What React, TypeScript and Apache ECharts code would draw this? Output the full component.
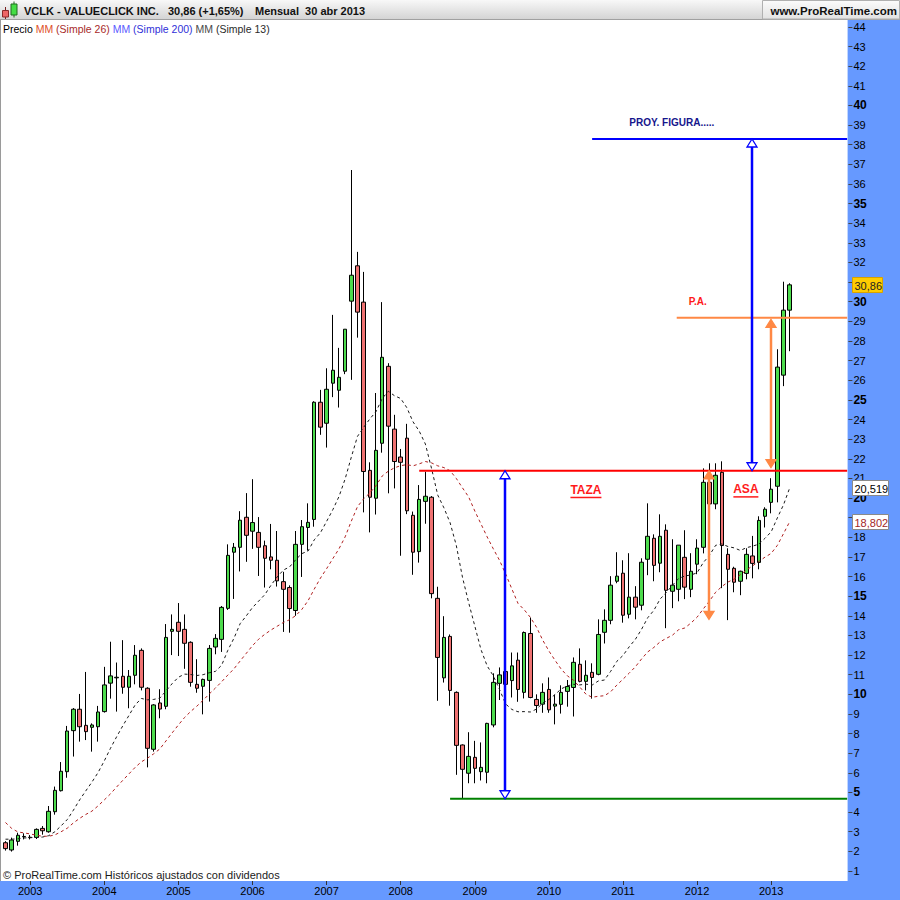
import React, { useEffect, useRef } from 'react';
import * as echarts from 'echarts';

const FONT = "'Liberation Sans', Arial, Helvetica, sans-serif";

// Monthly candles, Sep 2002 .. Apr 2013
const startYear = 2002;
const startMonth = 9;
const openP = [
  2.44, 2.07, 2.51, 2.74, 2.72, 2.71, 3.17, 3.0, 4.02, 5.09,
  6.06, 8.15, 9.24, 8.42, 8.32, 8.35, 9.12, 10.57, 10.84, 10.92,
  10.36, 10.97, 12.24, 10.31, 7.2, 9.56, 9.39, 13.21, 13.67, 13.31,
  12.65, 10.51, 10.41, 10.71, 12.41, 12.8, 14.38, 17.24, 17.49, 19.02,
  18.31, 18.25, 17.57, 17.0, 16.83, 15.74, 15.44, 14.27, 17.64, 18.5,
  18.91, 24.88, 23.81, 25.85, 25.49, 26.46, 30.03, 31.83, 29.98, 21.41,
  19.99, 22.79, 26.71, 23.51, 22.09, 23.05, 19.12, 17.27, 19.83, 20.04,
  14.89, 10.84, 12.95, 10.1, 7.42, 5.98, 6.79, 6.06, 6.03, 8.44,
  10.56, 11.16, 10.7, 11.74, 10.1, 13.1, 9.74, 9.5, 10.25, 9.4,
  9.49, 10.15, 10.35, 11.53, 10.66, 11.12, 11.02, 13.16, 13.77, 15.76,
  16.17, 14.08, 14.95, 14.54, 16.88, 17.95, 16.68, 18.36, 15.25, 15.35,
  16.98, 15.35, 16.63, 17.49, 20.8, 19.7, 21.31, 17.13, 16.42, 15.76,
  16.16, 17.05, 16.72, 19.07, 19.78, 20.6, 26.26, 29.57,
];
const highP = [
  2.52, 2.7, 2.95, 2.92, 2.83, 3.17, 3.29, 4.31, 5.3, 6.55,
  8.39, 9.3, 10.02, 11.14, 8.52, 9.41, 11.4, 12.68, 11.62, 12.76,
  11.24, 12.51, 12.34, 10.36, 9.5, 10.26, 13.58, 14.07, 14.65, 14.07,
  12.7, 11.79, 10.8, 12.51, 13.07, 14.5, 17.64, 17.71, 19.33, 20.25,
  20.96, 19.03, 17.83, 18.68, 18.32, 16.24, 15.55, 18.32, 18.88, 19.73,
  24.93, 25.51, 26.61, 29.33, 27.65, 28.6, 36.71, 32.54, 31.52, 21.82,
  25.35, 29.98, 26.87, 24.24, 22.5, 23.78, 19.31, 20.66, 21.34, 20.1,
  15.48, 13.98, 13.05, 10.15, 7.45, 8.07, 7.63, 7.55, 8.55, 11.07,
  11.37, 11.37, 12.13, 12.13, 13.2, 13.91, 10.0, 10.56, 10.86, 9.98,
  10.46, 10.73, 11.88, 12.34, 11.73, 11.58, 13.82, 14.33, 16.02, 17.24,
  16.83, 17.19, 15.51, 16.93, 19.73, 18.15, 19.17, 18.66, 17.9, 17.6,
  18.36, 17.19, 17.9, 21.51, 21.77, 21.77, 21.87, 17.44, 16.5, 16.3,
  17.44, 18.07, 19.07, 19.53, 21.01, 27.58, 31.02, 30.94,
];
const lowP = [
  2.04, 1.99, 2.29, 2.61, 2.61, 2.63, 2.85, 2.95, 3.87, 5.05,
  5.75, 6.83, 7.59, 7.67, 7.08, 7.59, 9.07, 9.78, 9.12, 10.03,
  9.29, 10.51, 10.2, 6.28, 7.08, 8.78, 9.24, 12.0, 11.95, 11.3,
  10.39, 10.08, 8.98, 9.63, 12.04, 12.16, 14.3, 14.86, 16.26, 16.75,
  17.41, 16.03, 15.44, 16.37, 15.49, 13.18, 13.14, 14.0, 15.98, 17.32,
  18.54, 23.22, 22.57, 25.14, 24.61, 26.31, 26.02, 28.17, 19.27, 18.25,
  19.16, 22.31, 20.24, 20.49, 17.06, 19.18, 16.09, 16.71, 18.69, 14.89,
  9.67, 10.6, 9.42, 5.9, 4.7, 5.47, 5.47, 5.61, 5.47, 8.32,
  9.71, 9.74, 9.84, 9.62, 9.79, 9.8, 9.06, 9.06, 9.06, 8.47,
  9.02, 9.37, 8.87, 10.61, 10.2, 9.78, 10.97, 12.59, 13.57, 15.66,
  13.65, 13.87, 13.82, 14.28, 16.07, 15.76, 16.22, 13.37, 14.39, 14.74,
  14.85, 14.95, 16.12, 17.18, 19.5, 19.43, 15.41, 13.78, 15.2, 15.05,
  15.86, 15.91, 16.37, 18.5, 19.22, 19.78, 25.7, 27.48,
];
const closeP = [
  2.14, 2.58, 2.82, 2.76, 2.7, 3.12, 3.05, 4.04, 5.11, 6.08,
  8.13, 9.24, 8.35, 8.1, 8.44, 9.1, 10.48, 10.94, 10.87, 10.36,
  10.92, 11.99, 10.36, 7.25, 9.46, 9.25, 12.9, 13.31, 13.21, 12.6,
  10.61, 10.31, 10.76, 12.34, 12.85, 14.43, 17.08, 17.49, 18.87, 18.1,
  18.75, 17.49, 16.93, 16.83, 15.78, 15.35, 14.37, 17.64, 18.54, 18.76,
  24.88, 23.61, 25.54, 26.51, 26.15, 28.6, 31.35, 29.47, 21.35, 20.04,
  22.43, 27.17, 23.66, 21.86, 21.82, 19.35, 17.24, 19.93, 20.09, 15.13,
  11.88, 12.9, 10.2, 7.4, 6.18, 6.84, 6.23, 6.28, 8.52, 10.61,
  10.99, 10.51, 11.45, 10.25, 13.15, 9.84, 9.43, 10.1, 9.21, 9.5,
  10.1, 10.4, 11.63, 10.66, 10.97, 10.86, 13.05, 13.77, 15.56, 16.02,
  14.03, 14.95, 14.44, 16.73, 18.05, 16.57, 18.05, 15.3, 15.56, 17.6,
  15.46, 16.27, 17.45, 20.8, 19.7, 21.16, 17.58, 16.37, 15.71, 16.27,
  17.13, 16.67, 18.86, 19.43, 20.45, 26.67, 29.57, 30.86,
];
// MM (Simple 13), black dashed
const ma13 = [
  2.62, 2.62, 2.64, 2.68, 2.7, 2.71, 2.73, 2.8, 3.0, 3.3,
  3.62, 4.1, 4.62, 5.08, 5.53, 6.02, 6.61, 7.25, 7.84, 8.4,
  8.93, 9.46, 9.79, 9.72, 9.74, 9.81, 10.18, 10.55, 10.87, 11.03,
  11.01, 10.96, 11.0, 11.1, 11.17, 11.48, 12.24, 12.86, 13.6, 14.0,
  14.42, 14.75, 15.08, 15.56, 15.98, 16.33, 16.49, 16.86, 17.17, 17.3,
  17.87, 18.23, 18.81, 19.4, 20.07, 20.97, 22.08, 23.14, 23.6, 24.03,
  24.4, 25.07, 25.44, 25.21, 25.07, 24.6, 23.88, 23.41, 22.75, 21.5,
  20.15, 19.5, 18.74, 17.59, 15.97, 14.68, 13.48, 12.28, 11.45, 10.94,
  10.25, 9.51, 9.23, 9.11, 9.12, 9.1, 9.25, 9.55, 9.74, 9.99,
  10.28, 10.43, 10.51, 10.48, 10.52, 10.47, 10.68, 10.73, 11.17, 11.68,
  11.98, 12.42, 12.8, 13.31, 13.9, 14.28, 14.85, 15.18, 15.55, 15.9,
  16.03, 16.08, 16.19, 16.71, 17.08, 17.59, 17.66, 17.53, 17.46, 17.33,
  17.47, 17.55, 17.65, 17.95, 18.28, 18.99, 19.66, 20.52,
];
// MM (Simple 26), dark red dashed
const ma26 = [
  3.47, 3.17, 2.99, 2.94, 2.89, 2.82, 2.77, 2.77, 2.84, 3.0,
  3.18, 3.45, 3.68, 3.88, 4.05, 4.32, 4.62, 4.93, 5.28, 5.62,
  5.95, 6.28, 6.56, 6.75, 6.97, 7.22, 7.63, 8.04, 8.44, 8.82,
  9.13, 9.4, 9.7, 10.02, 10.32, 10.64, 10.98, 11.3, 11.7, 12.09,
  12.48, 12.81, 13.06, 13.28, 13.47, 13.66, 13.8, 14.01, 14.33, 14.77,
  15.36, 15.92, 16.4, 16.91, 17.41, 18.02, 18.82, 19.56, 19.96, 20.26,
  20.63, 21.12, 21.37, 21.54, 21.65, 21.7, 21.64, 21.74, 21.86, 21.79,
  21.64, 21.55, 21.39, 21.0, 20.52, 20.06, 19.34, 18.68, 18.02, 17.41,
  16.83, 16.13, 15.37, 14.63, 14.31, 13.92, 13.42, 12.76, 12.21, 11.73,
  11.28, 10.94, 10.72, 10.37, 10.01, 9.85, 9.9, 9.93, 10.13, 10.47,
  10.77, 11.08, 11.4, 11.8, 12.16, 12.39, 12.67, 12.85, 13.01, 13.29,
  13.38, 13.63, 13.93, 14.35, 14.75, 15.2, 15.49, 15.72, 15.87, 16.09,
  16.33, 16.55, 16.77, 16.99, 17.18, 17.59, 18.19, 18.8,
];
const futurePad = 9;
const yearLabels = ['2003', '2004', '2005', '2006', '2007', '2008', '2009', '2010', '2011', '2012', '2013'];
const priceTicks = [
  1, 2, 3, 4, 5, 6, 7, 8, 9, 10, 11, 12, 13, 14, 15, 16, 17, 18, 19, 20, 21, 22,
  23, 24, 25, 26, 27, 28, 29, 30, 31, 32, 33, 34, 35, 36, 37, 38, 39, 40, 41, 42, 43, 44,
];
// labels hidden behind the last-value boxes (31 and 19 are covered in the reference)
const priceLabels = [
  1, 2, 3, 4, 5, 6, 7, 8, 9, 10, 11, 12, 13, 14, 15, 16, 17, 18, 20, 21, 22,
  23, 24, 25, 26, 27, 28, 29, 30, 32, 33, 34, 35, 36, 37, 38, 39, 40, 41, 42, 43, 44,
];

// Drawn levels: start/end in month-index units, price
const levelStart = [67.0, 72.0, 95.0, 108.7];
const levelEnd = [136.3, 136.3, 136.3, 136.3];
const levelPrice = [21.39, 4.68, 38.29, 29.19];

// Double arrows: position in month-index units, low/high price
const arrowAt = [80.9, 120.9, 123.9, 113.9];
const arrowLow = [4.68, 21.39, 21.55, 13.82];
const arrowHigh = [21.39, 38.29, 29.1, 21.39];

// Notes
const noteText = ['PROY. FIGURA.....', 'P.A.', 'TAZA', 'ASA'];
const noteAt = [107.9, 112.1, 94.0, 119.9];
const notePrice = [39.13, 29.99, 20.41, 20.44];

// Last values on the price scale
const lastValues = [30.86, 20.519, 18.802];
const lastLabels = ['30,86', '20,519', '18,802'];

// ---- styles ----
const levelColors = ['#ff0000', '#008000', '#0000ff', '#ff8844'];
const arrowStyles = [
  { stroke: '#0000ff', fill: '#ffffff' },
  { stroke: '#0000ff', fill: '#ffffff' },
  { stroke: '#ff8844', fill: '#ff8844' },
  { stroke: '#ff8844', fill: '#ff8844' },
];
const noteStyles = [
  { color: '#16168c', size: 10, underline: 0 },
  { color: '#ff1a1a', size: 10, underline: 0 },
  { color: '#ff1a1a', size: 12, underline: 31 },
  { color: '#ff1a1a', size: 12, underline: 25 },
];
const badgeStyles = [
  { fill: '#ffcc00', stroke: '#d8a200', text: '#222', width: 30 },
  { fill: '#ffffff', stroke: '#8a8a8a', text: '#000', width: 36 },
  { fill: '#ffffff', stroke: '#8a8a8a', text: '#a31f1f', width: 36 },
];

const N = closeP.length;
const TOTAL = N + futurePad;
const categories = Array.from({ length: TOTAL }, (_, i) => {
  const m = startMonth - 1 + i;
  const y = startYear + Math.floor(m / 12);
  const mm = (m % 12) + 1;
  return `${y}-${mm < 10 ? '0' + mm : mm}`;
});
const isYearStart = (value: string) =>
  value.endsWith('-01') && yearLabels.indexOf(value.slice(0, 4)) >= 0;

const candles = openP.map((o, i) => [o, closeP[i], lowP[i], highP[i]]);

const headerGradient = {
  type: 'linear', x: 0, y: 0, x2: 0, y2: 1,
  colorStops: [
    { offset: 0, color: '#f8f8f8' },
    { offset: 1, color: '#d2d2d2' },
  ],
};
const boxGradient = {
  type: 'linear', x: 0, y: 0, x2: 0, y2: 1,
  colorStops: [
    { offset: 0, color: '#fbfbfb' },
    { offset: 1, color: '#e2e2e2' },
  ],
};

function buildOption(): any {
  return {
    animation: false,
    backgroundColor: '#ffffff',
    grid: {
      left: 2.41, top: 20, width: 845.975, height: 861,
      containLabel: false, outerBoundsMode: 'none',
    },
    xAxis: [
      {
        type: 'category',
        data: categories,
        boundaryGap: true,
        axisLine: { show: false, onZero: false },
        splitLine: { show: false },
        axisTick: {
          show: true, alignWithLabel: true, length: 4,
          interval: (_i: number, v: string) => isYearStart(v),
          lineStyle: { color: '#333', width: 1 },
        },
        axisLabel: {
          interval: (_i: number, v: string) => isYearStart(v),
          formatter: (v: string) => (isYearStart(v) ? v.slice(0, 4) : ''),
          fontFamily: FONT, fontSize: 11, color: '#000', margin: 4,
        },
      },
      {
        type: 'value', show: false, min: -0.5, max: TOTAL - 0.5,
        axisLine: { show: false, onZero: false },
        axisTick: { show: false },
        axisLabel: { show: false },
        splitLine: { show: false },
      },
    ],
    yAxis: {
      type: 'value', position: 'right',
      min: 0.4906, max: 44.352,
      axisLine: { show: false, onZero: false },
      splitLine: { show: false },
      axisTick: { show: true, length: 4, lineStyle: { color: '#444' }, customValues: priceTicks },
      axisLabel: {
        customValues: priceLabels,
        margin: 5,
        formatter: (v: number) => (Math.round(v) % 5 === 0 ? `{b|${Math.round(v)}}` : `{n|${Math.round(v)}}`),
        rich: {
          b: { fontFamily: FONT, fontSize: 12, fontWeight: 'bold', color: '#000' },
          n: { fontFamily: FONT, fontSize: 11, color: '#000' },
        },
      },
    },
    series: [
      {
        type: 'candlestick',
        xAxisIndex: 0,
        data: candles,
        barWidth: 4,
        itemStyle: {
          color: '#4ddb4d', color0: '#ef7272',
          borderColor: '#000', borderColor0: '#000', borderColorDoji: '#000',
          borderWidth: 1,
        },
        z: 2,
      },
      {
        type: 'line', xAxisIndex: 0, data: ma26, symbol: 'none', silent: true,
        lineStyle: { color: '#b02020', width: 1, type: [3, 3] }, z: 3,
      },
      {
        type: 'line', xAxisIndex: 0, data: ma13, symbol: 'none', silent: true,
        lineStyle: { color: '#1a1a1a', width: 1, type: [3, 3] }, z: 3,
      },
      {
        type: 'custom', xAxisIndex: 1, yAxisIndex: 0, z: 5, clip: false, silent: true,
        encode: { x: [0, 1], y: 2 },
        data: levelPrice.map((p, i) => [levelStart[i], levelEnd[i], p, i]),
        renderItem: (_params: any, api: any) => {
          const i = api.value(3);
          const a = api.coord([api.value(0), api.value(2)]);
          const b = api.coord([api.value(1), api.value(2)]);
          return {
            type: 'line',
            shape: { x1: a[0], y1: a[1], x2: b[0], y2: b[1] },
            style: { stroke: levelColors[i], lineWidth: 2 },
          };
        },
      },
      {
        type: 'custom', xAxisIndex: 1, yAxisIndex: 0, z: 6, clip: false, silent: true,
        encode: { x: 0, y: [1, 2] },
        data: arrowAt.map((x, i) => [x, arrowLow[i], arrowHigh[i], i]),
        renderItem: (_params: any, api: any) => {
          const i = api.value(3);
          const top = api.coord([api.value(0), api.value(2)]);
          const bot = api.coord([api.value(0), api.value(1)]);
          const x = Math.round(top[0]);
          const L = 8;
          const w = 5;
          const st = arrowStyles[i];
          return {
            type: 'group',
            children: [
              {
                type: 'line',
                shape: { x1: x, y1: top[1] + L, x2: x, y2: bot[1] - L },
                style: { stroke: st.stroke, lineWidth: 2.5 },
              },
              {
                type: 'polygon',
                shape: { points: [[x, top[1]], [x - w, top[1] + L], [x + w, top[1] + L]] },
                style: { fill: st.fill, stroke: st.stroke, lineWidth: 1.3 },
              },
              {
                type: 'polygon',
                shape: { points: [[x, bot[1]], [x - w, bot[1] - L], [x + w, bot[1] - L]] },
                style: { fill: st.fill, stroke: st.stroke, lineWidth: 1.3 },
              },
            ],
          };
        },
      },
      {
        type: 'custom', xAxisIndex: 1, yAxisIndex: 0, z: 7, clip: false, silent: true,
        encode: { x: 0, y: 1 },
        data: noteAt.map((x, i) => [x, notePrice[i], i]),
        renderItem: (_params: any, api: any) => {
          const i = api.value(2);
          const p = api.coord([api.value(0), api.value(1)]);
          const st = noteStyles[i];
          const children: any[] = [
            {
              type: 'text', x: p[0], y: p[1],
              style: {
                text: noteText[i], fill: st.color,
                font: `bold ${st.size}px ${FONT}`,
                align: 'center', verticalAlign: 'middle',
                textAlign: 'center', textVerticalAlign: 'middle',
              },
            },
          ];
          if (st.underline > 0) {
            children.push({
              type: 'line',
              shape: { x1: p[0] - st.underline / 2, y1: p[1] + 7.5, x2: p[0] + st.underline / 2, y2: p[1] + 7.5 },
              style: { stroke: st.color, lineWidth: 1.5 },
            });
          }
          return { type: 'group', children };
        },
      },
      {
        type: 'custom', xAxisIndex: 1, yAxisIndex: 0, z: 8, clip: false, silent: true,
        encode: { x: 0, y: 1 },
        data: lastValues.map((v, i) => [0, v, i]),
        renderItem: (_params: any, api: any) => {
          const i = api.value(2);
          const p = api.coord([0, api.value(1)]);
          const st = badgeStyles[i];
          return {
            type: 'group',
            children: [
              {
                type: 'rect',
                shape: { x: 852.5, y: Math.round(p[1]) - 7.5, width: st.width, height: 15 },
                style: { fill: st.fill, stroke: st.stroke, lineWidth: 1 },
              },
              {
                type: 'text', x: 854.5, y: Math.round(p[1]) + 0.5,
                style: {
                  text: lastLabels[i], fill: st.text, font: `11px ${FONT}`,
                  align: 'left', verticalAlign: 'middle',
                  textAlign: 'left', textVerticalAlign: 'middle',
                },
              },
            ],
          };
        },
      },
    ],
    graphic: [
      // right scale panel & bottom time strip
      { type: 'rect', z: -10, silent: true, shape: { x: 847.6, y: 20, width: 52.4, height: 880 }, style: { fill: '#6699ff' } },
      { type: 'rect', z: -10, silent: true, shape: { x: 0, y: 881, width: 900, height: 19 }, style: { fill: '#6699ff' } },
      { type: 'line', z: -9, silent: true, shape: { x1: 0.5, y1: 20, x2: 0.5, y2: 881 }, style: { stroke: '#9a9a9a', lineWidth: 1 } },
      // header bar
      { type: 'rect', z: 100, silent: true, shape: { x: 0, y: 0, width: 900, height: 20 }, style: { fill: headerGradient } },
      { type: 'line', z: 101, silent: true, shape: { x1: 0, y1: 19.5, x2: 900, y2: 19.5 }, style: { stroke: '#a0a0a0', lineWidth: 1 } },
      { type: 'rect', z: 101, silent: true, shape: { x: 762.5, y: 0.5, width: 137, height: 18.5 }, style: { fill: boxGradient, stroke: '#b0b0b0', lineWidth: 1 } },
      // icon
      { type: 'line', z: 102, silent: true, shape: { x1: 5.5, y1: 7, x2: 5.5, y2: 19 }, style: { stroke: '#7a2020', lineWidth: 1 } },
      { type: 'rect', z: 103, silent: true, shape: { x: 2.5, y: 10.5, width: 6, height: 6.5 }, style: { fill: '#ee6666', stroke: '#8a2a2a', lineWidth: 1 } },
      { type: 'line', z: 102, silent: true, shape: { x1: 14, y1: 1.5, x2: 14, y2: 17.5 }, style: { stroke: '#1f6a1f', lineWidth: 1 } },
      { type: 'rect', z: 103, silent: true, shape: { x: 11, y: 4, width: 6, height: 11 }, style: { fill: '#44dd44', stroke: '#1f6a1f', lineWidth: 1 } },
      // header texts
      {
        type: 'text', z: 104, silent: true, x: 24, y: 10.5,
        style: { text: 'VCLK - VALUECLICK INC.', font: `bold 11px ${FONT}`, fill: '#111', verticalAlign: 'middle', textVerticalAlign: 'middle' },
      },
      {
        type: 'text', z: 104, silent: true, x: 168, y: 10.5,
        style: { text: '30,86 (+1,65%)', font: `bold 11px ${FONT}`, fill: '#111', verticalAlign: 'middle', textVerticalAlign: 'middle' },
      },
      {
        type: 'text', z: 104, silent: true, x: 255, y: 10.5,
        style: { text: 'Mensual  30 abr 2013', font: `bold 11px ${FONT}`, fill: '#111', verticalAlign: 'middle', textVerticalAlign: 'middle' },
      },
      {
        type: 'text', z: 104, silent: true, x: 897, y: 10.5,
        style: {
          text: 'www.ProRealTime.com', font: `bold 11.5px ${FONT}`, fill: '#111',
          align: 'right', textAlign: 'right', verticalAlign: 'middle', textVerticalAlign: 'middle',
        },
      },
      // indicator legend
      {
        type: 'text', z: 104, silent: true, x: 3, y: 28.5,
        style: {
          text: '{k|Precio} {a|MM} {b|(Simple 26)} {c|MM} {d|(Simple 200)} {e|MM} {f|(Simple 13)}',
          font: `10.5px ${FONT}`, fill: '#000', verticalAlign: 'middle', textVerticalAlign: 'middle',
          rich: {
            k: { fill: '#000', color: '#000', font: `10.5px ${FONT}` },
            a: { fill: '#e0502a', color: '#e0502a', font: `10.5px ${FONT}` },
            b: { fill: '#a82a2a', color: '#a82a2a', font: `10.5px ${FONT}` },
            c: { fill: '#5a5aff', color: '#5a5aff', font: `10.5px ${FONT}` },
            d: { fill: '#2f2fd8', color: '#2f2fd8', font: `10.5px ${FONT}` },
            e: { fill: '#4a4a4a', color: '#4a4a4a', font: `10.5px ${FONT}` },
            f: { fill: '#2a2a2a', color: '#2a2a2a', font: `10.5px ${FONT}` },
          },
        },
      },
      // footer note
      {
        type: 'text', z: 104, silent: true, x: 3, y: 874.5,
        style: {
          text: '\u00a9 ProRealTime.com Hist\u00f3ricos ajustados con dividendos',
          font: `11px ${FONT}`, fill: '#1a1a1a', verticalAlign: 'middle', textVerticalAlign: 'middle',
        },
      },
    ],
  };
}

export default function App() {
  const ref = useRef<HTMLDivElement>(null);
  useEffect(() => {
    if (!ref.current) return;
    const chart = echarts.init(ref.current, null, { renderer: 'svg' });
    chart.setOption(buildOption());
    return () => {
      chart.dispose();
    };
  }, []);
  return (
    <div
      ref={ref}
      style={{ position: 'absolute', left: 0, top: 0, width: 900, height: 900, background: '#fff' }}
    />
  );
}
